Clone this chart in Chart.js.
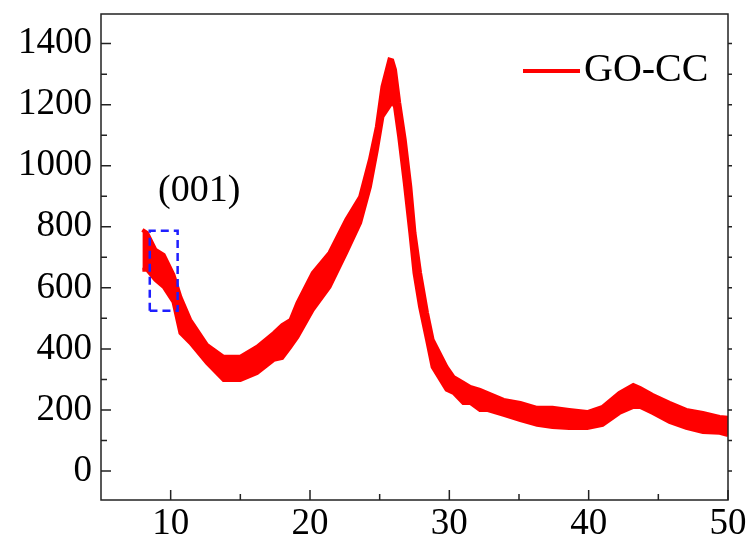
<!DOCTYPE html>
<html>
<head>
<meta charset="utf-8">
<script src="https://cdn.jsdelivr.net/npm/chart.js@4.4.0/dist/chart.umd.min.js"></script>
<style>
html, body { margin: 0; padding: 0; background: #fff; }
#wrap { width: 753px; height: 547px; }
</style>
</head>
<body>
<div id="wrap"><canvas id="xrdChart" width="753" height="547"></canvas></div>
<script>
// 2-theta positions (deg) and the top / bottom edges of the noisy trace
const twoTheta = [7.97, 8.3, 8.9, 9.5, 10.2, 10.7, 11.4, 12.6, 13.8, 15.0, 16.2, 17.4, 18.0, 18.6, 19.1, 20.2, 21.4, 22.6, 23.6, 24.3, 24.8, 25.2, 25.7, 25.9, 26.1, 26.4, 26.8, 27.2, 27.5, 27.9, 28.4, 28.8, 29.8, 30.3, 31.0, 31.5, 32.2, 32.7, 33.9, 35.1, 36.3, 37.4, 38.6, 39.9, 41.0, 42.2, 43.2, 43.7, 44.6, 45.8, 47.0, 48.2, 49.4, 50.0];
const upperEdge = [790, 780, 725, 708, 643, 570, 495, 413, 374, 374, 407, 452, 478, 495, 551, 649, 715, 823, 898, 1020, 1128, 1259, 1348, 1345, 1315, 1207, 1085, 931, 780, 649, 518, 430, 341, 308, 289, 275, 266, 256, 233, 223, 207, 207, 200, 193, 210, 256, 282, 272, 249, 223, 200, 190, 177, 174];
const lowerEdge = [659, 659, 626, 603, 554, 452, 420, 354, 298, 298, 321, 364, 370, 407, 439, 528, 603, 715, 813, 931, 1052, 1161, 1195, 1210, 1193, 1095, 944, 780, 649, 538, 430, 341, 266, 256, 223, 223, 200, 200, 184, 167, 151, 144, 141, 141, 151, 190, 210, 210, 190, 161, 141, 128, 125, 118];

// dashed box around the (001) region
const boxX = [8.5, 8.5, 10.5, 10.5, 8.5];
const boxY = [525, 787, 787, 525, 525];

const xTicks = [10, 20, 30, 40, 50];
const xMinorTicks = [15, 25, 35, 45];
const yTicks = [0, 200, 400, 600, 800, 1000, 1200, 1400];
const yMinorTicks = [100, 300, 500, 700, 900, 1100, 1300];

const seriesName = 'GO-CC';
const peakLabel = '(001)';

const serif = '"Liberation Serif", "Times New Roman", Times, Tinos, "Nimbus Roman", "DejaVu Serif", "Noto Serif", serif';
const toPoints = (xs, ys) => xs.map((x, i) => ({ x: x, y: ys[i] }));

const framePlugin = {
    id: 'frame',
    afterDraw(chart) {
        const ctx = chart.ctx;
        const a = chart.chartArea;
        const xs = chart.scales.x, ys = chart.scales.y;
        ctx.save();
        ctx.strokeStyle = '#222';
        ctx.lineWidth = 1.5;
        ctx.strokeRect(a.left, a.top, a.right - a.left, a.bottom - a.top);

        ctx.beginPath();
        xTicks.concat(xMinorTicks).forEach(v => {
            const px = xs.getPixelForValue(v);
            const len = xTicks.includes(v) ? 10 : 6;
            ctx.moveTo(px, a.bottom);
            ctx.lineTo(px, a.bottom - len);
        });
        yTicks.concat(yMinorTicks).forEach(v => {
            const py = ys.getPixelForValue(v);
            const len = yTicks.includes(v) ? 10 : 6;
            ctx.moveTo(a.left, py);
            ctx.lineTo(a.left + len, py);
            ctx.moveTo(a.right, py);
            ctx.lineTo(a.right + 4, py);
        });
        ctx.stroke();

        // legend
        ctx.strokeStyle = '#ff0000';
        ctx.lineWidth = 4;
        ctx.beginPath();
        ctx.moveTo(523, 71);
        ctx.lineTo(580, 71);
        ctx.stroke();
        ctx.fillStyle = '#000';
        ctx.font = '40px ' + serif;
        ctx.textBaseline = 'middle';
        ctx.textAlign = 'left';
        ctx.fillText(seriesName, 584, 70);

        // peak label
        ctx.font = '38px ' + serif;
        ctx.textAlign = 'center';
        ctx.fillText(peakLabel, xs.getPixelForValue(12.05), ys.getPixelForValue(918));
        ctx.restore();
    }
};

new Chart(document.getElementById('xrdChart'), {
    type: 'line',
    data: {
        datasets: [
            {
                label: 'box',
                data: toPoints(boxX, boxY),
                borderColor: '#1f1fff',
                borderWidth: 2.5,
                borderDash: [8, 5],
                pointRadius: 0,
                fill: false,
                order: 0
            },
            {
                label: seriesName,
                data: toPoints(twoTheta, upperEdge),
                borderColor: '#ff0000',
                backgroundColor: '#ff0000',
                borderWidth: 4,
                pointRadius: 0,
                fill: '+1',
                order: 1
            },
            {
                label: seriesName + ' lower',
                data: toPoints(twoTheta, lowerEdge),
                borderColor: '#ff0000',
                borderWidth: 4,
                pointRadius: 0,
                fill: false,
                order: 2
            }
        ]
    },
    options: {
        responsive: false,
        devicePixelRatio: 1,
        animation: false,
        layout: { padding: { top: 14, right: 25, left: 0, bottom: 0 } },
        plugins: {
            legend: { display: false },
            tooltip: { enabled: false }
        },
        scales: {
            x: {
                type: 'linear',
                min: 5,
                max: 50,
                afterBuildTicks: s => { s.ticks = xTicks.map(v => ({ value: v })); },
                afterFit: s => {
                    s.height = 47;
                    s.paddingLeft = 0; s.paddingRight = 0;
                },
                grid: { display: false, drawTicks: false },
                border: { display: false },
                ticks: { font: { family: serif, size: 37 }, color: '#000', padding: 2, maxRotation: 0, callback: v => String(v) }
            },
            y: {
                type: 'linear',
                min: -95,
                max: 1497,
                afterBuildTicks: s => { s.ticks = yTicks.map(v => ({ value: v })); },
                afterFit: s => {
                    s.width = 101;
                    s.paddingTop = 0; s.paddingBottom = 0;
                },
                grid: { display: false, drawTicks: false },
                border: { display: false },
                ticks: { font: { family: serif, size: 37 }, color: '#000', padding: 9, callback: v => String(v) }
            }
        }
    },
    plugins: [framePlugin]
});
</script>
</body>
</html>
